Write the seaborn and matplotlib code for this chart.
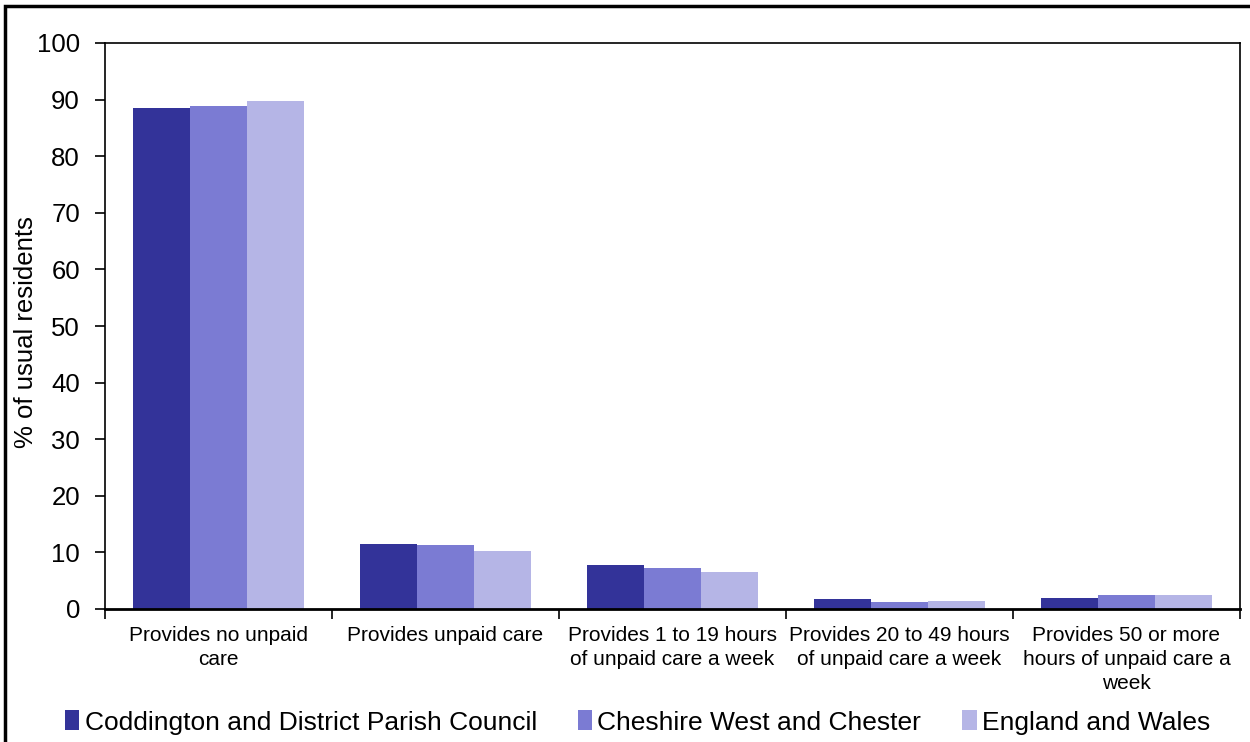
import matplotlib
matplotlib.use("Agg")
import matplotlib.pyplot as plt
import pandas as pd
import seaborn as sns
from matplotlib.patches import Rectangle

categories = [
    "Provides no unpaid\ncare",
    "Provides unpaid care",
    "Provides 1 to 19 hours\nof unpaid care a week",
    "Provides 20 to 49 hours\nof unpaid care a week",
    "Provides 50 or more\nhours of unpaid care a\nweek",
]
areas = ["Coddington and District Parish Council", "Cheshire West and Chester", "England and Wales"]
coddington = [88.6, 11.5, 7.7, 1.7, 2.0]
cheshire = [88.8, 11.3, 7.3, 1.3, 2.5]
england_wales = [89.7, 10.3, 6.5, 1.4, 2.4]
colours = ["#333399", "#7b7bd3", "#b5b5e6"]

rows = []
for area, vals in zip(areas, [coddington, cheshire, england_wales]):
    for cat, v in zip(categories, vals):
        rows.append({"category": cat, "area": area, "value": v})
df = pd.DataFrame(rows)

sns.set_theme(style="white", rc={"text.color": "black", "axes.labelcolor": "black",
                                 "xtick.color": "black", "ytick.color": "black"})
plt.rcParams["font.family"] = ["Liberation Sans", "DejaVu Sans"]

fig = plt.figure(figsize=(12.5, 7.42), dpi=100)
ax = fig.add_axes([105 / 1250, 1 - 609 / 742, (1240 - 105) / 1250, (609 - 43) / 742])

sns.barplot(data=df, x="category", y="value", hue="area", hue_order=areas,
            order=categories, palette=colours, width=0.75, linewidth=0,
            saturation=1, ax=ax, legend=True)

ax.set_ylim(0, 100)
ax.set_xlim(-0.5, len(categories) - 0.5)
ax.set_yticks(range(0, 101, 10))
ax.tick_params(axis="y", labelsize=18.5, length=7, width=1.2, pad=11, left=True)
# category labels without ticks, boundaries get the tick marks
ax.set_xticks(range(len(categories)))
ax.set_xticklabels(categories, fontsize=15, linespacing=1.35)
ax.tick_params(axis="x", which="major", length=0, pad=12)
ax.set_xticks([i - 0.5 for i in range(len(categories) + 1)], minor=True)
ax.tick_params(axis="x", which="minor", length=7, width=1.2, bottom=True)
ax.set_xlabel("")
ax.set_ylabel("% of usual residents", fontsize=18.5)
ax.yaxis.set_label_coords(-0.059, 0.49)
for side in ["left", "bottom", "top", "right"]:
    ax.spines[side].set_visible(True)
    ax.spines[side].set_color("black")
    ax.spines[side].set_linewidth(1.2)
ax.spines["bottom"].set_linewidth(2)

handles, labels = ax.get_legend_handles_labels()
ax.get_legend().remove()
fig.legend(handles, labels, loc="lower center", bbox_to_anchor=(0.51, -0.022),
           ncol=3, frameon=False, fontsize=19, handlelength=0.55, handleheight=0.8,
           handletextpad=0.2, columnspacing=1.55)

fig.add_artist(Rectangle((5 / 1250, -0.05), 1.1, 1 - 6 / 742 + 0.05,
                         transform=fig.transFigure, fill=False,
                         edgecolor="black", linewidth=2.5))

fig.savefig("out.png", dpi=100)
